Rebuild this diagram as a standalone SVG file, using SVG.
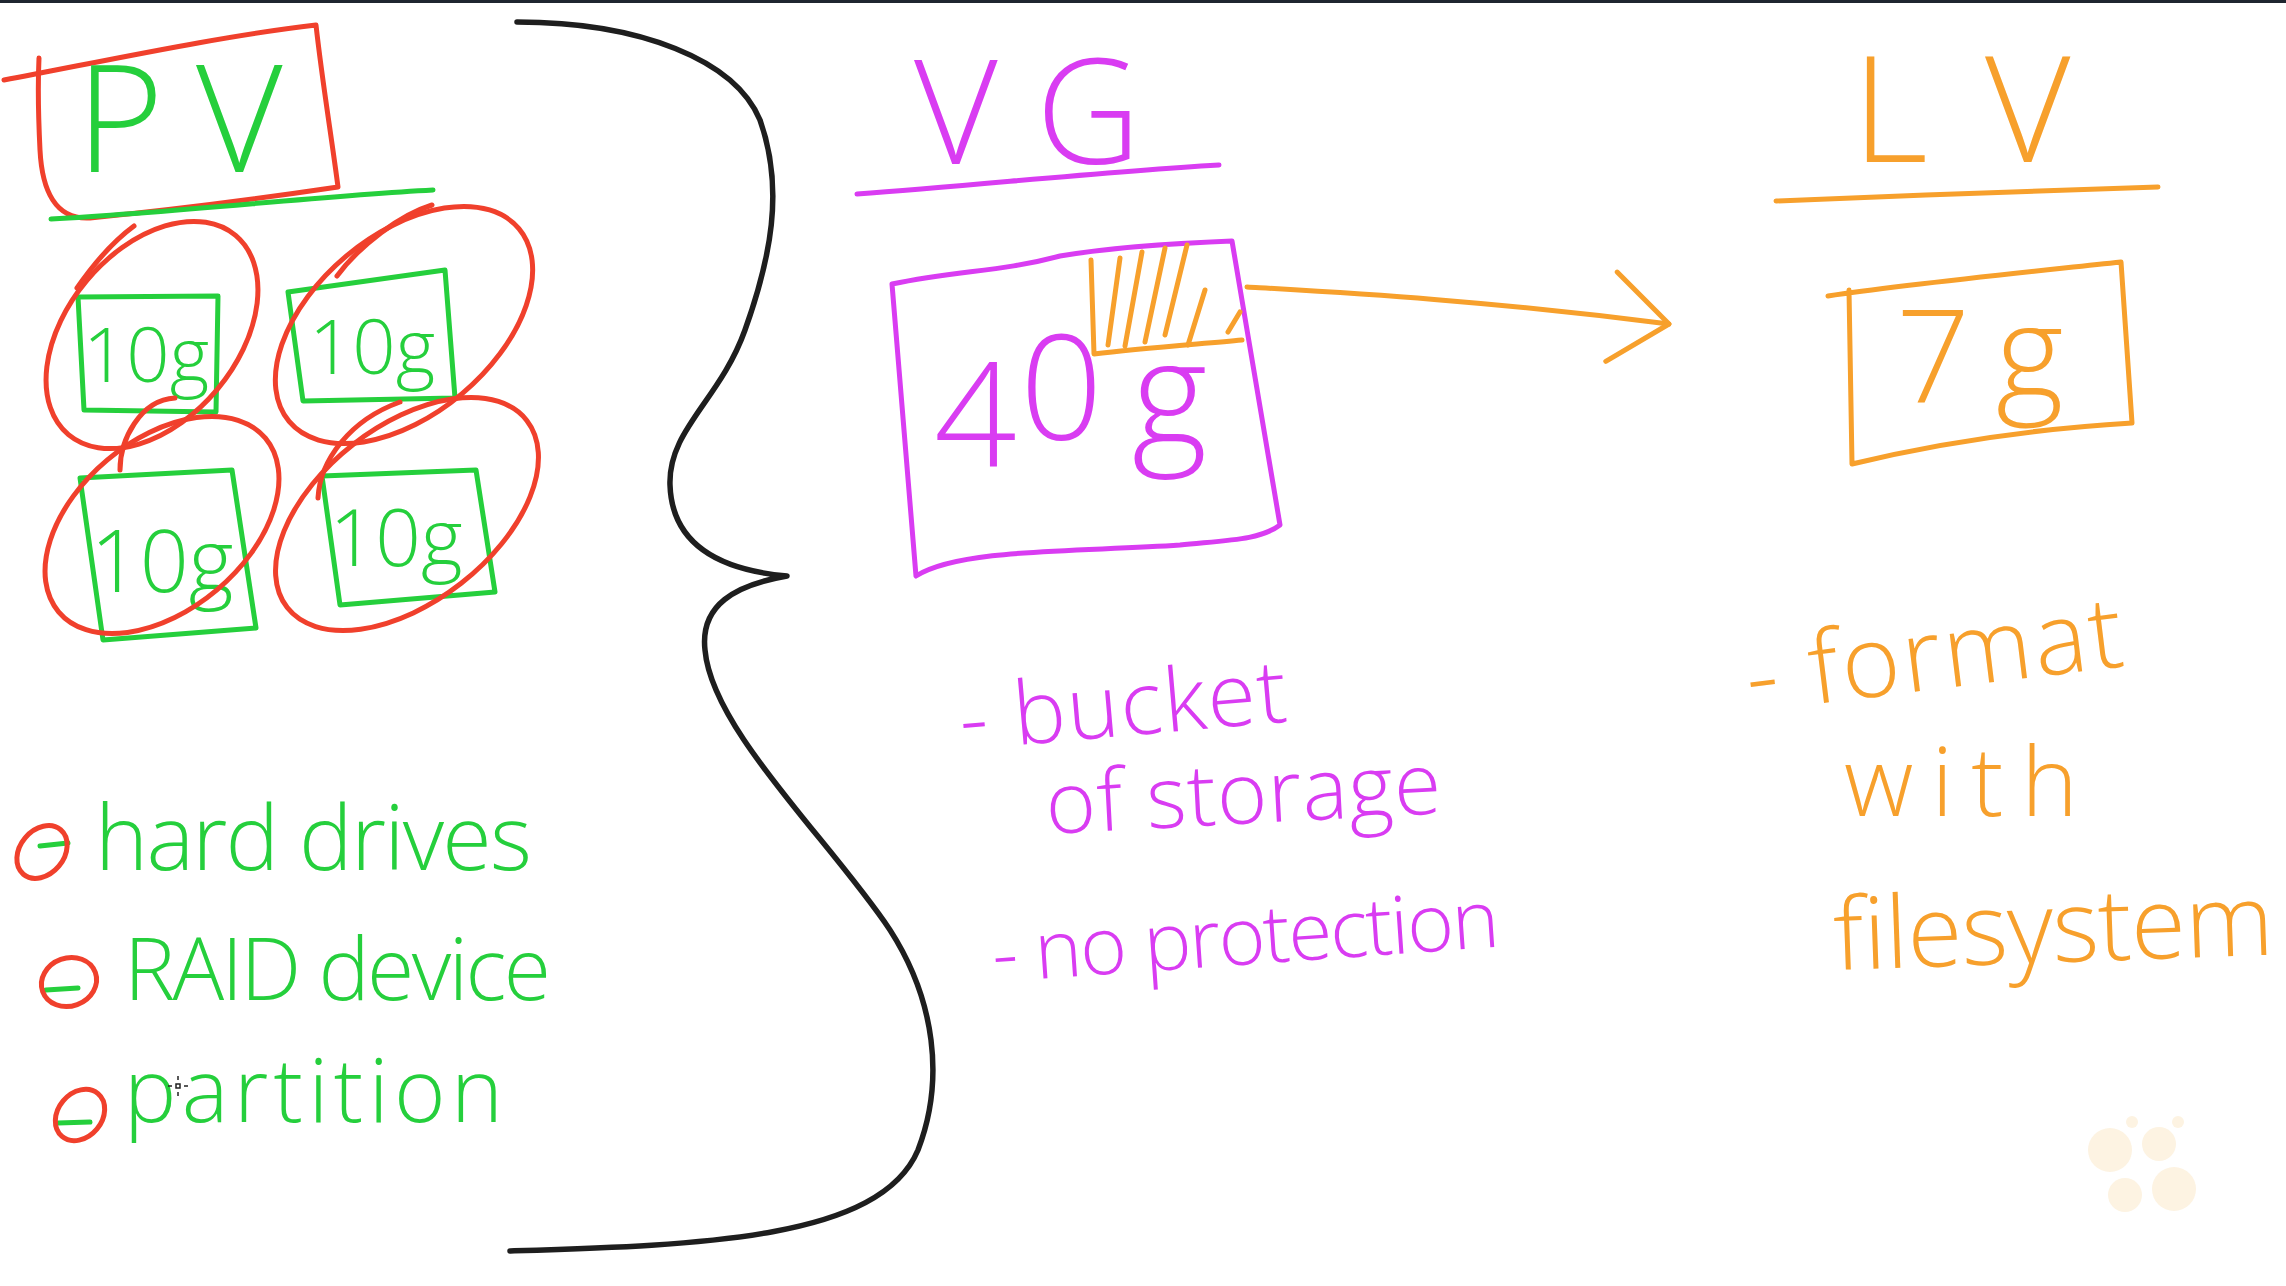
<svg xmlns="http://www.w3.org/2000/svg" width="2286" height="1286" viewBox="0 0 2286 1286">
<style>
  .s { fill: none; stroke-linecap: round; stroke-linejoin: round; stroke-width: 5; }
  .g { stroke: #25cf3c; }
  .r { stroke: #f0402c; }
  .m { stroke: #d93cf2; }
  .o { stroke: #f7a02c; }
  .k { stroke: #1e1e1e; stroke-width: 5.5; }
  .t { font-family: "Open Sans", "Liberation Sans", sans-serif; font-weight: 300; }
  .tg { fill: #25cf3c; }
  .tm { fill: #d93cf2; }
  .to { fill: #f7a02c; }
</style>
<defs>
  <marker id="chev" markerUnits="userSpaceOnUse" markerWidth="70" markerHeight="100" refX="58" refY="45" orient="auto" overflow="visible">
    <path d="M0,0 L58,45 L0,90" fill="none" stroke="#f7a02c" stroke-width="5" stroke-linecap="round" stroke-linejoin="round"/>
  </marker>
</defs>
<rect x="0" y="0" width="2286" height="1286" fill="#ffffff"/>
<rect x="0" y="0" width="2286" height="3" fill="#1f2630"/>

<g id="pv-header">
  <path class="s r" d="M4,80 C100,62 220,36 316,25 C322,80 332,140 338,187 C250,200 150,212 90,218 C55,220 42,190 40,150 C38,110 38,80 39,58"/>
  <text class="t tg" x="76 196" y="172" font-size="150">PV</text>
  <path class="s g" d="M51,219 C180,212 320,196 433,190"/>
</g>

<g id="pv-disk-1">
  <path class="s g" d="M78,297 L218,296 L216,412 L84,410 Z"/>
  <text class="t tg" x="146" y="382" font-size="76" text-anchor="middle">10g</text>
  <ellipse class="s r" cx="152" cy="335" rx="85" ry="130" transform="rotate(40 152 335)"/>
  <path class="s r" d="M77,288 C95,262 115,240 134,226"/>
</g>
<g id="pv-disk-2">
  <path class="s g" d="M288,292 L445,270 L455,398 L303,401 Z"/>
  <text class="t tg" x="372" y="374" font-size="76" text-anchor="middle">10g</text>
  <ellipse class="s r" cx="404" cy="325" rx="90" ry="150" transform="rotate(50 404 325)"/>
  <path class="s r" d="M337,276 C360,245 400,215 432,205"/>
</g>
<g id="pv-disk-3">
  <path class="s g" d="M80,478 L232,470 L256,628 L103,640 Z"/>
  <text class="t tg" x="162" y="592" font-size="86" text-anchor="middle">10g</text>
  <ellipse class="s r" cx="162" cy="525" rx="85" ry="135" transform="rotate(50 162 525)"/>
  <path class="s r" d="M120,470 C120,440 140,400 175,398"/>
</g>
<g id="pv-disk-4">
  <path class="s g" d="M322,476 L476,470 L495,592 L340,605 Z"/>
  <text class="t tg" x="396" y="566" font-size="80" text-anchor="middle">10g</text>
  <ellipse class="s r" cx="407" cy="514" rx="88" ry="152" transform="rotate(52 407 514)"/>
  <path class="s r" d="M318,498 C320,460 350,420 400,402"/>
</g>

<g id="pv-list">
  <path class="s g" d="M40,846 L68,843"/>
  <ellipse class="s r" cx="42" cy="852" rx="22" ry="29" transform="rotate(40 42 852)"/>
  <text class="t tg" x="95" y="870" font-size="90" textLength="437" lengthAdjust="spacing">hard drives</text>
  <path class="s g" d="M46,990 L78,988"/>
  <ellipse class="s r" cx="69" cy="982" rx="28" ry="24" transform="rotate(-20 69 982)"/>
  <text class="t tg" x="124" y="1000" font-size="86" textLength="427" lengthAdjust="spacing">RAID device</text>
  <path class="s g" d="M58,1123 L90,1122"/>
  <ellipse class="s r" cx="80" cy="1115" rx="22" ry="28" transform="rotate(40 80 1115)"/>
  <text class="t tg" x="124" y="1122" font-size="88" textLength="379" lengthAdjust="spacing">partition</text>
  <g id="cursor" stroke="#222" stroke-width="1.5" fill="none">
    <rect x="176" y="1084" width="4" height="4"/>
    <path d="M178,1076 L178,1080 M178,1092 L178,1096 M168,1086 L172,1086 M184,1086 L188,1086"/>
  </g>
</g>

<g id="brace">
  <path class="s k" d="M517,22 C640,22 735,60 760,120 C785,190 770,260 745,330 C720,400 668,430 670,485 C672,545 720,570 787,576 C735,585 700,605 705,650 C712,730 830,840 890,930 C935,1000 945,1080 918,1150 C880,1240 700,1245 510,1251"/>
</g>

<g id="vg-header">
  <text class="t tm" x="914 1036" y="164" font-size="145">VG</text>
  <path class="s m" d="M857,194 C980,185 1100,172 1219,165"/>
</g>

<g id="vg-box">
  <path class="s m" d="M892,284 C960,270 1000,272 1060,256 C1120,246 1180,243 1232,241 L1280,525 C1260,540 1230,540 1180,545 C1080,552 960,548 916,576 L892,284"/>
  <path class="s o" d="M1091,260 L1094,354 C1140,348 1200,344 1242,340"/>
  <path class="s o" d="M1120,258 L1108,345 M1142,252 L1125,346 M1165,248 L1145,342 M1187,245 L1165,335 M1205,290 L1188,345 M1240,312 L1228,332"/>
  <text class="t tm" font-size="145"><tspan x="934" y="467">4</tspan><tspan x="1020" y="440">0</tspan><tspan x="1132" y="445">g</tspan></text>
</g>

<g id="vg-notes">
  <text class="t tm" x="962" y="750" font-size="88" textLength="328" lengthAdjust="spacing" transform="rotate(-5 962 750)">- bucket</text>
  <text class="t tm" x="1047" y="834" font-size="86" textLength="396" lengthAdjust="spacing" transform="rotate(-3 1047 834)">of storage</text>
  <text class="t tm" x="994" y="982" font-size="80" textLength="508" lengthAdjust="spacing" transform="rotate(-4 994 982)">- no protection</text>
</g>

<g id="lv-header">
  <text class="t to" x="1852 1985" y="162" font-size="148">LV</text>
  <path class="s o" d="M1776,201 C1900,196 2050,190 2158,187"/>
</g>

<g id="lv-box">
  <path class="s o" d="M1828,296 C1900,285 2000,275 2121,262 L2132,423 C2050,428 1950,440 1852,464 L1849,290"/>
  <text class="t to" font-size="130"><tspan x="1896" y="402">7</tspan><tspan x="1996" y="398">g</tspan></text>
</g>

<g id="lv-notes">
  <text class="t to" x="1750" y="712" font-size="100" textLength="379" lengthAdjust="spacing" transform="rotate(-7 1750 712)">- format</text>
  <text class="t to" x="1844" y="816" font-size="96" textLength="234" lengthAdjust="spacing">with</text>
  <text class="t to" x="1834" y="970" font-size="100" textLength="440" lengthAdjust="spacing" transform="rotate(-2 1834 970)">filesystem</text>
</g>

<g id="connectors">
  <path class="s o" d="M1247,287 C1350,293 1480,300 1669,324" marker-end="url(#chev)"/>
</g>

<g id="watermark" fill="#fdf3e2">
  <circle cx="2110" cy="1150" r="22"/>
  <circle cx="2159" cy="1144" r="17"/>
  <circle cx="2125" cy="1195" r="17"/>
  <circle cx="2174" cy="1189" r="22"/>
  <circle cx="2132" cy="1122" r="6"/>
  <circle cx="2178" cy="1122" r="6"/>
</g>
</svg>
